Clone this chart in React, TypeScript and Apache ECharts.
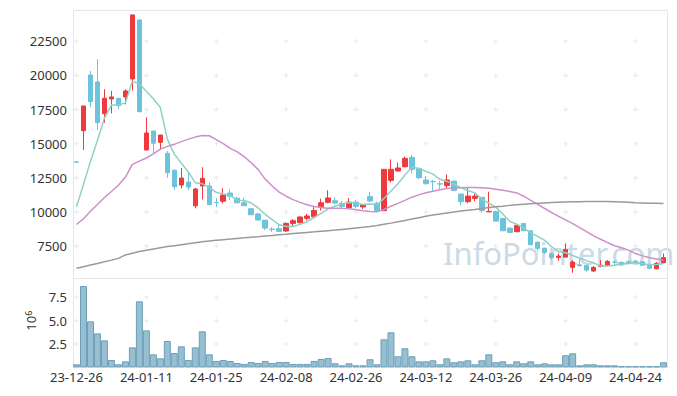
import React, { useEffect, useRef } from 'react';
import * as echarts from 'echarts';

const dates = [
  '23-12-26', '23-12-27', '23-12-28', '24-01-02', '24-01-03', '24-01-04', '24-01-05', '24-01-08', '24-01-09', '24-01-10',
  '24-01-11', '24-01-12', '24-01-15', '24-01-16', '24-01-17', '24-01-18', '24-01-19', '24-01-22', '24-01-23', '24-01-24',
  '24-01-25', '24-01-26', '24-01-29', '24-01-30', '24-01-31', '24-02-01', '24-02-02', '24-02-05', '24-02-06', '24-02-07',
  '24-02-08', '24-02-13', '24-02-14', '24-02-15', '24-02-16', '24-02-19', '24-02-20', '24-02-21', '24-02-22', '24-02-23',
  '24-02-26', '24-02-27', '24-02-28', '24-02-29', '24-03-04', '24-03-05', '24-03-06', '24-03-07', '24-03-08', '24-03-11',
  '24-03-12', '24-03-13', '24-03-14', '24-03-15', '24-03-18', '24-03-19', '24-03-20', '24-03-21', '24-03-22', '24-03-25',
  '24-03-26', '24-03-27', '24-03-28', '24-03-29', '24-04-01', '24-04-02', '24-04-03', '24-04-04', '24-04-05', '24-04-08',
  '24-04-09', '24-04-11', '24-04-12', '24-04-15', '24-04-16', '24-04-17', '24-04-18', '24-04-19', '24-04-22', '24-04-23',
  '24-04-24', '24-04-25', '24-04-26', '24-04-29', '24-04-30',
];

const opens = [
  13660, 15950, 20030, 19520, 17195, 18270, 18320, 18420, 19740, 24060,
  14535, 15930, 15100, 14290, 13050, 11970, 12190, 10450, 11900, 11900,
  10700, 10780, 11380, 11000, 10670, 10230, 9850, 9400, 8740, 8770,
  8600, 9160, 9210, 9530, 9650, 10380, 10700, 10820, 10630, 10310,
  10720, 10360, 11120, 10630, 10090, 12310, 13000, 13310, 14000, 13190,
  12340, 12230, 12060, 11920, 12260, 11310, 10750, 10990, 11070, 10000,
  10020, 9530, 8820, 8550, 9160, 8620, 7790, 7350, 6940, 6670,
  6690, 5940, 6130, 6090, 5670, 6010, 6090, 6330, 6300, 6350,
  6400, 6350, 6160, 5840, 6280,
];
const closes = [
  13640, 17760, 18075, 16540, 18323, 18420, 17780, 18860, 24430, 17340,
  15780, 15030, 15630, 12870, 11850, 12480, 11820, 11680, 12460, 10530,
  10670, 11240, 11140, 10670, 10450, 9790, 9400, 8820, 8720, 8580,
  9160, 9360, 9630, 9700, 10110, 10670, 11020, 10650, 10410, 10720,
  10410, 10530, 10800, 10090, 13120, 13120, 13220, 13920, 13120, 12510,
  12070, 12210, 12040, 12340, 11560, 10750, 11160, 11160, 10090, 10040,
  9330, 8620, 8500, 9010, 8620, 7600, 7330, 7040, 6650, 6770,
  7260, 6330, 6060, 5740, 5940, 6090, 6380, 6310, 6130, 6230,
  6310, 6090, 5870, 6230, 6650,
];
const lows = [
  13640, 14535, 17660, 16000, 16536, 17220, 17540, 17880, 18880, 17300,
  14500, 14290, 14535, 12500, 11600, 11730, 11580, 10260, 10920, 10530,
  10340, 10630, 10870, 10630, 10450, 9790, 9400, 8670, 8530, 8580,
  8550, 8970, 9160, 9380, 9500, 10100, 10630, 10550, 10260, 10210,
  10260, 10210, 10750, 10090, 10090, 12160, 12950, 13260, 12830, 12390,
  11990, 11480, 11680, 11730, 11560, 10500, 10630, 10800, 9940, 9990,
  9330, 8620, 8500, 8550, 8620, 7600, 7160, 6910, 6520, 6430,
  6690, 5540, 6050, 5620, 5620, 5940, 6040, 6090, 6040, 6160,
  6230, 6060, 5870, 5790, 6230,
];
const highs = [
  13660, 17760, 20320, 21180, 18983, 18860, 18330, 18980, 24430, 24060,
  16930, 15930, 15640, 14460, 13120, 13220, 12900, 11770, 13270, 12170,
  11000, 11730, 11650, 11110, 11040, 10230, 9950, 9400, 8870, 9160,
  9230, 9480, 9670, 9870, 10380, 10970, 11580, 11070, 10800, 11020,
  10870, 10530, 11480, 10750, 13120, 13850, 13610, 14050, 14170, 13200,
  12630, 12340, 12260, 12750, 12260, 11310, 11800, 11360, 11070, 11480,
  10020, 9530, 8820, 9010, 9160, 8620, 7790, 7350, 7010, 6960,
  7700, 6470, 6570, 6090, 6040, 6470, 6470, 6450, 6380, 6470,
  6470, 6380, 6160, 6330, 6960,
];

const ma5 = [
  10380, 12000, 13700, 15250, 16870, 17824, 17828, 17985, 19563, 19366,
  18838, 18288, 17642, 15330, 14232, 13572, 12930, 12140, 12058, 11794,
  11432, 11316, 11208, 10850, 10834, 10658, 10290, 9826, 9436, 9062,
  8936, 8928, 9090, 9286, 9592, 9894, 10226, 10430, 10572, 10694,
  10642, 10544, 10574, 10510, 10990, 11532, 12070, 12694, 13300, 13178,
  12968, 12766, 12390, 12234, 12044, 11780, 11570, 11394, 10944, 10636,
  10352, 9844, 9312, 9096, 8816, 8470, 8212, 7920, 7448, 7078,
  7010, 6810, 6614, 6432, 6266, 6032, 6042, 6092, 6170, 6228,
  6272, 6214, 6126, 6146, 6230,
];
const ma20 = [
  9080, 9500, 10050, 10550, 11050, 11500, 11950, 12550, 13480, 13720,
  13950, 14250, 14600, 14800, 14950, 15150, 15330, 15480, 15600, 15580,
  15300, 15000, 14650, 14400, 14050, 13600, 13100, 12400, 11900, 11450,
  11150, 10900, 10700, 10520, 10400, 10330, 10270, 10260, 10260, 10230,
  10160, 10080, 10040, 10020, 10180, 10420, 10630, 10850, 11080, 11250,
  11400, 11520, 11620, 11720, 11750, 11770, 11790, 11790, 11770, 11730,
  11660, 11580, 11490, 11390, 11150, 10850, 10560, 10250, 9950, 9680,
  9420, 9140, 8850, 8550, 8250, 8000, 7750, 7520, 7380, 7200,
  6950, 6780, 6650, 6550, 6460,
];
const ma60 = [
  5870, 5990, 6110, 6230, 6350, 6470, 6600, 6850, 6980, 7100,
  7200, 7290, 7380, 7460, 7530, 7600, 7670, 7750, 7810, 7870,
  7920, 7970, 8010, 8060, 8100, 8150, 8190, 8240, 8280, 8330,
  8370, 8420, 8460, 8500, 8540, 8590, 8630, 8670, 8720, 8770,
  8820, 8870, 8930, 9000, 9090, 9180, 9280, 9380, 9480, 9580,
  9690, 9770, 9840, 9920, 9990, 10060, 10120, 10180, 10250, 10320,
  10380, 10420, 10480, 10520, 10560, 10600, 10630, 10660, 10690, 10710,
  10730, 10740, 10750, 10755, 10760, 10760, 10755, 10750, 10730, 10710,
  10680, 10660, 10640, 10630, 10620,
];

// volume in millions (axis unit 10^6)
const volumes = [
  0.32, 8.71, 4.93, 3.64, 2.89, 0.78, 0.32, 0.64, 2.14, 7.07,
  3.96, 1.39, 0.96, 2.82, 1.53, 2.25, 0.78, 2.14, 3.86, 1.39,
  0.68, 0.78, 0.68, 0.46, 0.36, 0.57, 0.46, 0.68, 0.46, 0.57,
  0.57, 0.36, 0.36, 0.36, 0.68, 0.89, 1.0, 0.43, 0.21, 0.43,
  0.21, 0.21, 0.86, 0.32, 3.0, 3.75, 1.18, 2.04, 1.18, 0.64,
  0.64, 0.75, 0.32, 0.96, 0.54, 0.64, 0.75, 0.32, 0.75, 1.39,
  0.54, 0.64, 0.32, 0.64, 0.43, 0.64, 0.32, 0.43, 0.32, 0.32,
  1.29, 1.5, 0.21, 0.32, 0.32, 0.21, 0.21, 0.21, 0.11, 0.11,
  0.11, 0.11, 0.11, 0.11, 0.54,
];

const priceTicks = [7500, 10000, 12500, 15000, 17500, 20000, 22500];
const volumeTicks = [2.5, 5.0, 7.5];
const labelEvery = 10;

const FONT = 'Noto Sans';
const PLUS = 'path://M2,0H3V2H5V3H3V5H2V3H0V2H2Z';

function crosses(ticks: number[]) {
  const out: any[] = [];
  for (let i = 0; i < dates.length; i += labelEvery) {
    for (const t of ticks) out.push([dates[i], t]);
  }
  return out;
}

export default function App() {
  const ref = useRef<HTMLDivElement>(null);
  useEffect(() => {
    const chart = echarts.init(ref.current!, null, { renderer: 'svg' });
    const candleData = opens.map((o, i) => [o, closes[i], lows[i], highs[i]]);
    const hiddenAxis = {
      axisLine: { show: false },
      axisTick: { show: false },
      splitLine: { show: false },
    };
    chart.setOption({
      animation: false,
      backgroundColor: '#ffffff',
      textStyle: { fontFamily: FONT },
      grid: [
        { left: 73, right: 10, top: 7.1, height: 273.1 },
        { left: 73, right: 10, top: 274, height: 93.3 },
      ],
      xAxis: [
        {
          type: 'category', gridIndex: 0, data: dates, boundaryGap: true,
          ...hiddenAxis, axisLabel: { show: false },
        },
        {
          type: 'category', gridIndex: 1, data: dates, boundaryGap: true,
          ...hiddenAxis,
          axisLabel: {
            interval: labelEvery - 1, color: '#333', fontSize: 13, fontFamily: FONT, margin: 3,
            hideOverlap: false,
          },
        },
      ],
      yAxis: [
        {
          type: 'value', gridIndex: 0, min: 5000, max: 25000, interval: 2500,
          ...hiddenAxis,
          axisLabel: {
            showMinLabel: false, showMaxLabel: false, color: '#333', fontSize: 13,
            fontFamily: FONT, margin: 6, formatter: (v: number) => String(v),
          },
        },
        {
          type: 'value', gridIndex: 1, min: 0, max: 10, interval: 2.5,
          ...hiddenAxis,
          axisLabel: {
            showMinLabel: false, showMaxLabel: false, color: '#333', fontSize: 13,
            fontFamily: FONT, margin: 6, formatter: (v: number) => v.toFixed(1),
          },
          name: '{b|10}{s|6}',
          nameLocation: 'middle',
          nameRotate: 90,
          nameGap: 36,
          nameTextStyle: {
            color: '#333',
            rich: {
              b: { fontSize: 13, fontFamily: FONT, color: '#333' },
              s: { fontSize: 9, fontFamily: FONT, color: '#333', verticalAlign: 'top' },
            },
          },
        },
      ],
      graphic: [
        {
          type: 'text', x: 443, y: 253, z: 1, silent: true,
          style: {
            text: 'InfoPointer.com', fontSize: 31, fontFamily: FONT,
            fill: '#cadbe6', verticalAlign: 'middle', align: 'left',
          },
        },
        {
          type: 'rect', z: 1, silent: true,
          shape: { x: 73.5, y: 10.5, width: 594, height: 357 },
          style: { fill: 'none', stroke: '#e6e6e6', lineWidth: 1 },
        },
        {
          type: 'line', z: 1, silent: true,
          shape: { x1: 73.5, y1: 278.5, x2: 667.5, y2: 278.5 },
          style: { stroke: '#e6e6e6', lineWidth: 1 },
        },
      ],
      series: [
        {
          type: 'scatter', xAxisIndex: 0, yAxisIndex: 0, data: crosses(priceTicks),
          symbol: PLUS, symbolSize: 5, silent: true, z: 1,
          itemStyle: { color: '#e4e4e4' },
        },
        {
          type: 'scatter', xAxisIndex: 1, yAxisIndex: 1, data: crosses(volumeTicks),
          symbol: PLUS, symbolSize: 5, silent: true, z: 1,
          itemStyle: { color: '#e4e4e4' },
        },
        {
          name: 'price', type: 'candlestick', xAxisIndex: 0, yAxisIndex: 0,
          data: candleData, barWidth: 5,
          itemStyle: {
            color: '#ee3a3c', color0: '#6cc3da',
            borderColor: '#ee3a3c', borderColor0: '#6cc3da', borderWidth: 1,
          },
          z: 3,
        },
        {
          name: 'MA5', type: 'line', xAxisIndex: 0, yAxisIndex: 0, data: ma5,
          showSymbol: false, symbol: 'none', lineStyle: { color: '#8fd0c2', width: 1.5 }, z: 4,
        },
        {
          name: 'MA20', type: 'line', xAxisIndex: 0, yAxisIndex: 0, data: ma20,
          showSymbol: false, symbol: 'none', lineStyle: { color: '#cc90c9', width: 1.5 }, z: 4,
        },
        {
          name: 'MA60', type: 'line', xAxisIndex: 0, yAxisIndex: 0, data: ma60,
          showSymbol: false, symbol: 'none', lineStyle: { color: '#9a9a9a', width: 1.5 }, z: 4,
        },
        {
          name: 'volume', type: 'bar', xAxisIndex: 1, yAxisIndex: 1, data: volumes,
          barCategoryGap: '0%', barWidth: '100%',
          itemStyle: { color: '#98bfd1', borderColor: '#6b9fb8', borderWidth: 1 },
          z: 3,
        },
      ],
    });
    return () => chart.dispose();
  }, []);
  return (
    <div
      ref={ref}
      style={{ position: 'absolute', left: 0, top: 0, width: 677, height: 396 }}
    />
  );
}
